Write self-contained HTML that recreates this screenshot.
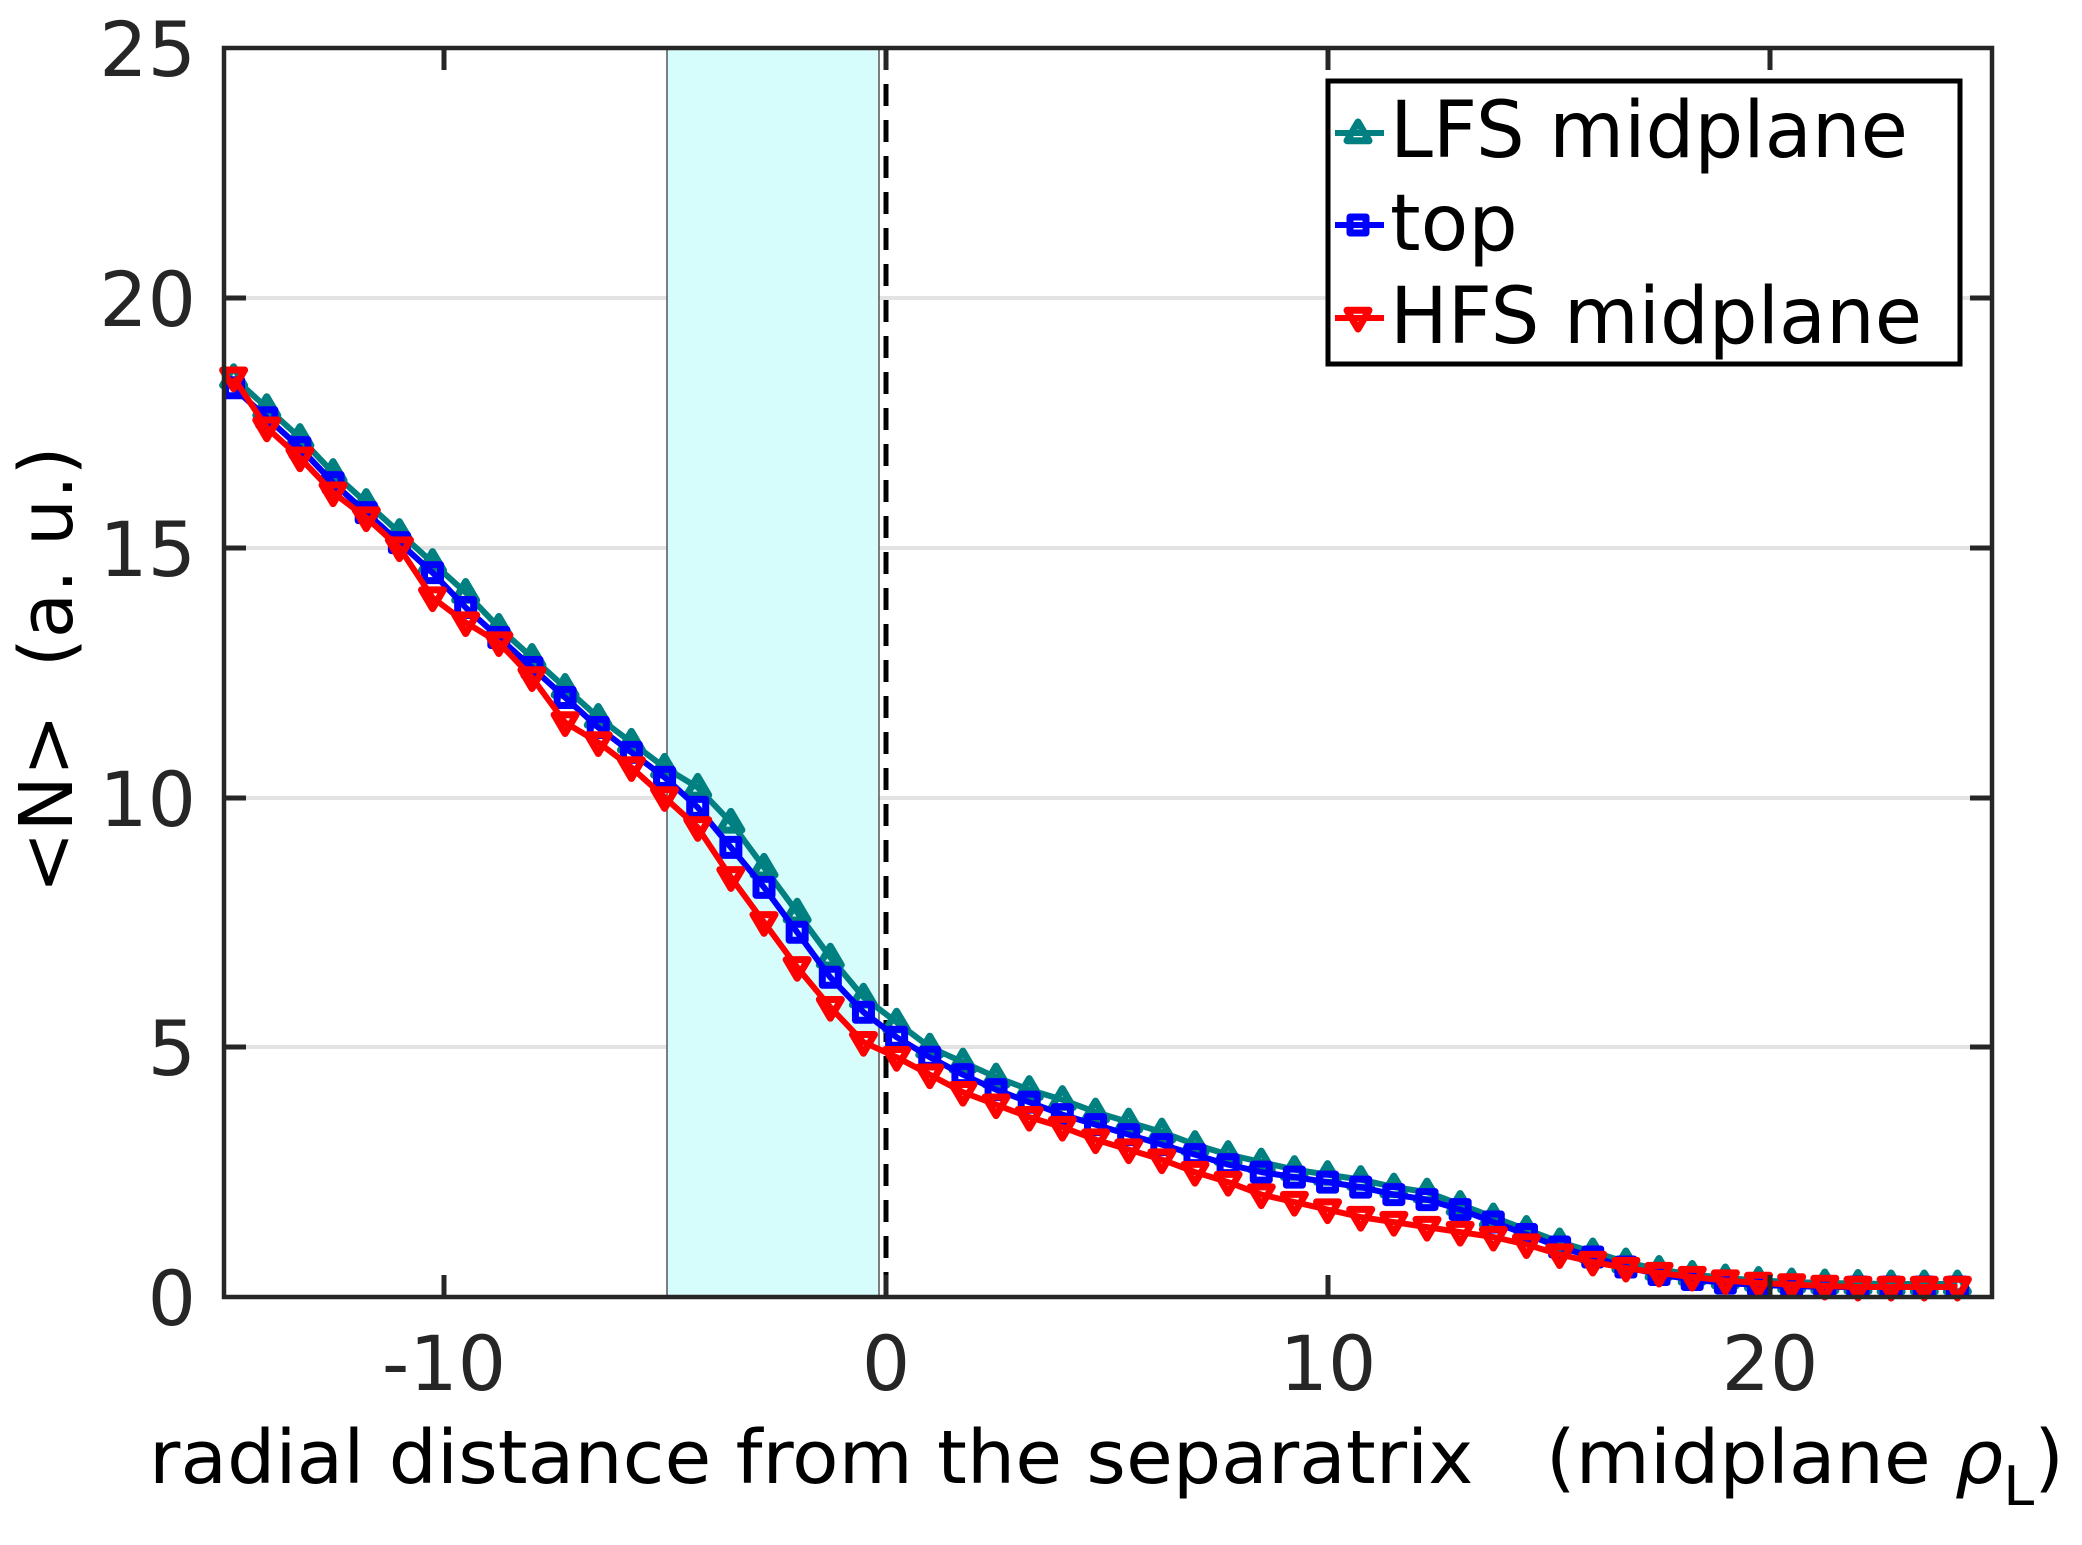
<!DOCTYPE html>
<html><head><meta charset="utf-8"><style>
html,body{margin:0;padding:0;background:#fff;}
svg{display:block;font-family:"DejaVu Sans","Liberation Sans",sans-serif;}
text{white-space:pre;}
</style></head><body>
<svg id="s" width="2082" height="1545" viewBox="0 0 2082 1545" xmlns="http://www.w3.org/2000/svg" xml:space="preserve">
<rect width="2082" height="1545" fill="#fff"/>
<g stroke="#e3e3e3" stroke-width="4">
<line x1="224" y1="1047" x2="1992" y2="1047"/>
<line x1="224" y1="798" x2="1992" y2="798"/>
<line x1="224" y1="548" x2="1992" y2="548"/>
<line x1="224" y1="298" x2="1992" y2="298"/>
</g>
<rect x="667" y="48" width="212" height="1249" fill="#d6fcfc" stroke="#555" stroke-width="1.5"/>
<line x1="886" y1="48" x2="886" y2="1297" stroke="#000" stroke-width="5" stroke-dasharray="22,14"/>
<g id="series"></g>
<rect x="224" y="48" width="1768" height="1249" fill="none" stroke="#262626" stroke-width="4.5"/>
<g stroke="#262626" stroke-width="5">
<line x1="444" y1="1297" x2="444" y2="1275"/><line x1="886" y1="1297" x2="886" y2="1275"/><line x1="1328" y1="1297" x2="1328" y2="1275"/><line x1="1770" y1="1297" x2="1770" y2="1275"/>
<line x1="444" y1="48" x2="444" y2="70"/><line x1="886" y1="48" x2="886" y2="70"/><line x1="1328" y1="48" x2="1328" y2="70"/><line x1="1770" y1="48" x2="1770" y2="70"/>
<line x1="224" y1="1047" x2="246" y2="1047"/><line x1="224" y1="798" x2="246" y2="798"/><line x1="224" y1="548" x2="246" y2="548"/><line x1="224" y1="298" x2="246" y2="298"/>
<line x1="1992" y1="1047" x2="1970" y2="1047"/><line x1="1992" y1="798" x2="1970" y2="798"/><line x1="1992" y1="548" x2="1970" y2="548"/><line x1="1992" y1="298" x2="1970" y2="298"/>
</g>
<g fill="#262626" font-size="76" text-anchor="end">
<text x="196" y="1325">0</text>
<text x="196" y="1075">5</text>
<text x="196" y="826">10</text>
<text x="196" y="576">15</text>
<text x="196" y="326">20</text>
<text x="196" y="76">25</text>
</g>
<g fill="#262626" font-size="76" text-anchor="middle">
<text x="444" y="1390">-10</text>
<text x="886" y="1390">0</text>
<text x="1328" y="1390">10</text>
<text x="1770" y="1390">20</text>
</g>
<text x="149" y="1483" font-size="74" fill="#000" textLength="1915" lengthAdjust="spacingAndGlyphs">radial distance from the separatrix   (midplane <tspan font-style="italic">ρ</tspan><tspan font-size="54" dy="22">L</tspan><tspan dy="-22">)</tspan></text>
<text transform="translate(72,670) rotate(-90)" font-size="74" fill="#000" text-anchor="middle">&lt;N&gt;  (a. u.)</text>
<rect x="1328" y="81" width="632" height="283" fill="#fff" stroke="#000" stroke-width="5"/>
<g font-size="78" fill="#000">
<text x="1390" y="157" textLength="518" lengthAdjust="spacingAndGlyphs">LFS midplane</text>
<text x="1390" y="250">top</text>
<text x="1390" y="343" textLength="532" lengthAdjust="spacingAndGlyphs">HFS midplane</text>
</g>
<g id="leg"></g>
</svg>
<script>
var NS="http://www.w3.org/2000/svg";
function X(v){return 886+v*44.2;}
function Y(v){return 1297-v*49.96;}
var lfs=[18.4,17.8,17.2,16.5,15.9,15.3,14.7,14.1,13.4,12.8,12.2,11.6,11.1,10.6,10.2,9.5,8.6,7.7,6.8,6.0,
5.5,5.0,4.7,4.4,4.15,3.95,3.7,3.5,3.3,3.05,2.85,2.7,2.55,2.45,2.35,2.2,2.1,1.85,1.6,1.35,1.1,0.9,0.7,0.55,0.45,0.38,0.33,0.3,0.28,0.27,0.26,0.26,0.26];
var top_=[18.2,17.6,17.0,16.3,15.7,15.1,14.5,13.8,13.2,12.6,12.0,11.4,10.9,10.4,9.8,9.0,8.2,7.3,6.4,5.7,
5.2,4.8,4.45,4.15,3.9,3.65,3.45,3.25,3.05,2.85,2.65,2.5,2.4,2.3,2.2,2.05,1.95,1.75,1.5,1.25,1.0,0.8,0.6,0.45,0.35,0.28,0.24,0.22,0.2,0.2,0.2,0.2,0.2];
var hfs=[18.4,17.4,16.8,16.1,15.6,15.0,14.0,13.5,13.1,12.4,11.5,11.1,10.6,10.0,9.4,8.4,7.5,6.6,5.8,5.1,
4.8,4.45,4.1,3.85,3.6,3.4,3.15,2.95,2.75,2.5,2.3,2.05,1.9,1.75,1.6,1.5,1.4,1.3,1.2,1.05,0.85,0.7,0.58,0.48,0.4,0.33,0.28,0.25,0.22,0.2,0.2,0.2,0.2];
function marker(g,type,cx,cy,col){
  var p=document.createElementNS(NS,"path"),d,r=11;
  if(type=="up")d="M"+cx+","+(cy-r)+"L"+(cx+r)+","+(cy+r*0.7)+"L"+(cx-r)+","+(cy+r*0.7)+"Z";
  else if(type=="down")d="M"+cx+","+(cy+r)+"L"+(cx+r)+","+(cy-r*0.7)+"L"+(cx-r)+","+(cy-r*0.7)+"Z";
  else d="M"+(cx-8)+","+(cy-8)+"h16v16h-16Z";
  p.setAttribute("d",d);p.setAttribute("fill","none");p.setAttribute("stroke",col);p.setAttribute("stroke-width","7");p.setAttribute("stroke-linejoin","round");
  g.appendChild(p);
}
function series(data,col,type){
  var g=document.getElementById("series"),pts=[];
  for(var i=0;i<data.length;i++){var x=-14.76+i*0.75;pts.push([X(x),Y(data[i])]);}
  var pl=document.createElementNS(NS,"polyline");
  pl.setAttribute("points",pts.map(function(p){return p[0].toFixed(1)+","+p[1].toFixed(1)}).join(" "));
  pl.setAttribute("fill","none");pl.setAttribute("stroke",col);pl.setAttribute("stroke-width","6");pl.setAttribute("stroke-linejoin","round");
  g.appendChild(pl);
  pts.forEach(function(p){marker(g,type,p[0],p[1],col);});
}
series(lfs,"#008080","up");
series(top_,"#0000ff","sq");
series(hfs,"#ff0000","down");
var lg=document.getElementById("leg");
[["#008080","up",133],["#0000ff","sq",225],["#ff0000","down",318]].forEach(function(a){
  var l=document.createElementNS(NS,"line");
  l.setAttribute("x1",1335);l.setAttribute("x2",1384);l.setAttribute("y1",a[2]);l.setAttribute("y2",a[2]);
  l.setAttribute("stroke",a[0]);l.setAttribute("stroke-width","6");lg.appendChild(l);
  marker(lg,a[1],1358,a[2],a[0]);
});
</script>
</body></html>
